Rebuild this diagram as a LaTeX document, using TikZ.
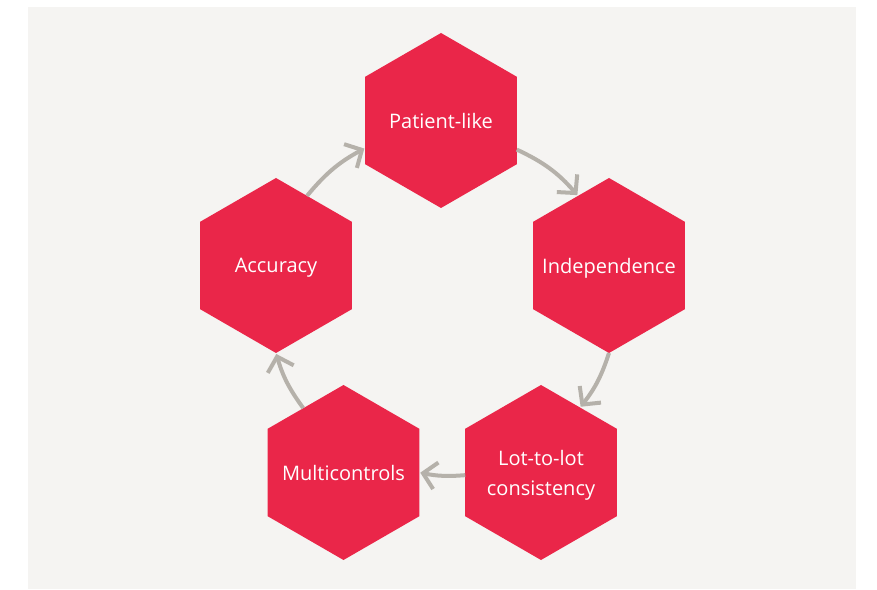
\documentclass[tikz,border=0pt]{standalone}
\usepackage{fontspec}
\setmainfont{Open Sans}
\usetikzlibrary{arrows.meta,shapes.geometric}
\definecolor{hexred}{RGB}{234,38,73}
\definecolor{backgray}{RGB}{245,244,242}
\definecolor{arrowgray}{RGB}{181,177,170}

\begin{document}
\begin{tikzpicture}[x=1pt, y=1pt,
		hexa/.style={regular polygon, regular polygon sides=6, shape border rotate=30,
			minimum size=175pt, inner sep=0pt, outer sep=0pt, fill=hexred,
			label={[text=white, font=\fontsize{20}{30}\selectfont, align=center,
				text depth=0pt]center:#1}},
		flow/.style={draw=arrowgray, line width=4pt, shorten >=1pt,
			-{Straight Barb[length=13pt, width=27pt]}}]
			% background
			\useasboundingbox (0, 0) rectangle (877, 589);
			\fill[backgray] (28, 0) rectangle (856, 582);

			% hexagons
			\node[hexa={Patient-like}] (patient) at (441, 468.5) {};
			\node[hexa={Independence}] (indep) at (609, 323.5) {};
			\node[hexa={Lot-to-lot\\consistency}] (lot) at (541, 116.5) {};
			\node[hexa={Multicontrols}] (multi) at (343.5, 116.5) {};
			\node[hexa={Accuracy}] (accur) at (276, 323.5) {};

			% cycle arrows
			\draw[flow] (patient.-21) to[bend left=12] (indep.114);
			\draw[flow] (indep.-90) to[bend left=10] (lot.59);
			\draw[flow] (lot.182) to[bend left=8] (multi.0);
			\draw[flow] (multi.122) to[bend left=10] (accur.-90);
			\draw[flow] (accur.66) to[bend left=11] (patient.200);
		\end{tikzpicture}
\end{document}
